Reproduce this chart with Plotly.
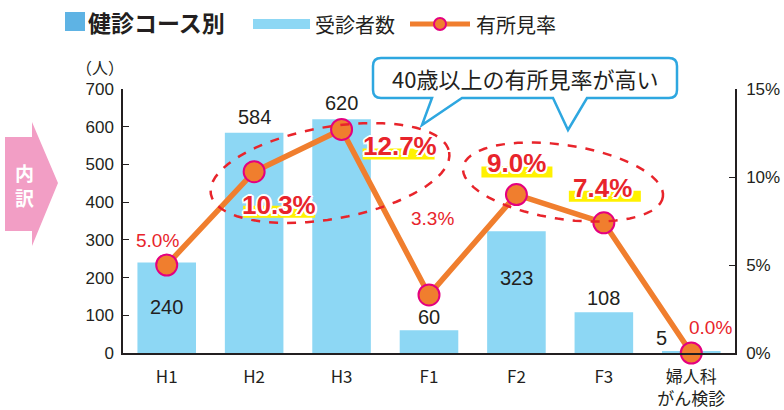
import numpy as np
import plotly.graph_objects as go

# ---------------- data ----------------
categories = ["H1", "H2", "H3", "F1", "F2", "F3", "婦人科<br>がん検診"]
examinees = [240, 584, 620, 60, 323, 108, 5]
finding_rate = [5.0, 10.3, 12.7, 3.3, 9.0, 7.4, 0.0]
rate_labels = ["5.0%", "10.3%", "12.7%", "3.3%", "9.0%", "7.4%", "0.0%"]
highlighted = [False, True, True, False, True, True, False]
left_ticks = [0, 100, 200, 300, 400, 500, 600, 700]
right_ticks = [0, 5, 10, 15]
right_tick_text = ["0%", "5%", "10%", "15%"]

# ---------------- style / layout ----------------
W, H = 784, 410
L, R, T, B = 123, 49, 89, 57
PW, PH = W - L - R, H - T - B

def px(x):
    return (x - L) / PW

def py(y):
    return (T + PH - y) / PH

BAR = "#8DD7F4"
LINE = "#F07E2E"
MK_EDGE = "#E4007F"
RED = "#E8242B"
TXT = "#231F20"
BLUE = "#2EA7E0"
NUM_FONT = "Liberation Sans, Arial, Noto Sans CJK JP"
JP_FONT = "Noto Sans CJK JP, Liberation Sans"

fig = go.Figure()
fig.add_trace(go.Bar(
    x=categories, y=examinees, marker=dict(color=BAR, line=dict(width=0)),
    width=0.67, name="受診者数", showlegend=False, hoverinfo="skip"))
fig.add_trace(go.Scatter(
    x=categories, y=finding_rate, yaxis="y2", mode="lines+markers",
    line=dict(color=LINE, width=5.5),
    marker=dict(size=21, color=LINE, line=dict(color=MK_EDGE, width=2)),
    cliponaxis=False, name="有所見率", showlegend=False, hoverinfo="skip"))

annotations = []
shapes = []

def note(x, y, text, size, color=TXT, family=JP_FONT, xanchor="center", **kw):
    annotations.append(dict(x=px(x), y=py(y), xref="paper", yref="paper", text=text,
                            showarrow=False, xanchor=xanchor, yanchor="middle",
                            font=dict(family=family, size=size, color=color), **kw))

# bar value labels (offsets in pixels relative to bar top)
bar_label_shift = [-45, 16, 16, 13, -47, 14, 13]
bar_label_xshift = [0, 0, 0, 0, 0, 0, -30]
for c, v, ys, xs in zip(categories, examinees, bar_label_shift, bar_label_xshift):
    annotations.append(dict(x=c, y=v, xref="x", yref="y", text=str(v),
                            showarrow=False, yshift=ys, xshift=xs,
                            xanchor="center", yanchor="middle",
                            font=dict(family=NUM_FONT, size=20, color=TXT)))

# rate labels
rate_shift = [(-9, 25), (25, -33), (58, -17), (3, 76), (0, 32), (-1, 35), (19, 26)]
hl_box = [None, (-11, 61, -34, -46), (21, 93, -19, -30), None,
          (-35, 36, 28, 17), (-35, 37, 32, 21), None]
shadow = "2px 0 0 white, -2px 0 0 white, 0 2px 0 white, 0 -2px 0 white, 1.5px 1.5px 0 white, -1.5px -1.5px 0 white, 1.5px -1.5px 0 white, -1.5px 1.5px 0 white"
for i, (c, v, lab, hl) in enumerate(zip(categories, finding_rate, rate_labels, highlighted)):
    xs, ys = rate_shift[i]
    if hl:
        x0, x1, y0, y1 = hl_box[i]
        shapes.append(dict(type="rect", xref="x", yref="y2", xsizemode="pixel",
                           ysizemode="pixel", xanchor=i, yanchor=v,
                           x0=x0, x1=x1, y0=y0, y1=y1,
                           fillcolor="#FFF100", line=dict(width=0), layer="above"))
        annotations.append(dict(x=c, y=v, xref="x", yref="y2", text="<b>" + lab + "</b>",
                                showarrow=False, xshift=xs, yshift=ys,
                                xanchor="center", yanchor="middle",
                                font=dict(family=NUM_FONT, size=26, color=RED, shadow=shadow)))
    else:
        annotations.append(dict(x=c, y=v, xref="x", yref="y2", text=lab,
                                showarrow=False, xshift=xs, yshift=ys,
                                xanchor="center", yanchor="middle",
                                font=dict(family=NUM_FONT, size=19, color=RED)))

# dashed ellipses (pixel geometry converted to paper)
def ellipse_path(cx, cy, a, b, deg):
    t = np.linspace(0, 2 * np.pi, 73)
    th = np.deg2rad(deg)
    ex = a * np.cos(t)
    ey = b * np.sin(t)
    xs = cx + ex * np.cos(th) + ey * np.sin(th)
    ys = cy - ex * np.sin(th) + ey * np.cos(th)
    pts = ["%s%.5f,%.5f" % ("M" if k == 0 else "L", px(x), py(y)) for k, (x, y) in enumerate(zip(xs, ys))]
    return " ".join(pts) + " Z"

for (cx, cy, a, b, deg) in [(330, 173, 121, 46, 10), (563, 182, 101, 37, -8.5)]:
    shapes.append(dict(type="path", xref="paper", yref="paper", path=ellipse_path(cx, cy, a, b, deg),
                       line=dict(color=RED, width=2.5, dash="dash"), layer="above"))

# callout box
r = 8
bx0, bx1, by0, by1 = 373, 677, 58, 98
path = "M%.5f,%.5f L%.5f,%.5f " % (px(bx0 + r), py(by0), px(bx1 - r), py(by0))
path += "Q%.5f,%.5f %.5f,%.5f " % (px(bx1), py(by0), px(bx1), py(by0 + r))
path += "L%.5f,%.5f " % (px(bx1), py(by1 - r))
path += "Q%.5f,%.5f %.5f,%.5f " % (px(bx1), py(by1), px(bx1 - r), py(by1))
for (x, y) in [(587, by1), (568, 130), (553, by1), (462, by1), (422, 125), (432, by1), (bx0 + r, by1)]:
    path += "L%.5f,%.5f " % (px(x), py(y))
path += "Q%.5f,%.5f %.5f,%.5f " % (px(bx0), py(by1), px(bx0), py(by1 - r))
path += "L%.5f,%.5f " % (px(bx0), py(by0 + r))
path += "Q%.5f,%.5f %.5f,%.5f Z" % (px(bx0), py(by0), px(bx0 + r), py(by0))
shapes.append(dict(type="path", xref="paper", yref="paper", path=path,
                   fillcolor="white", line=dict(color=BLUE, width=2.5), layer="above"))
note(525, 78, "40歳以上の有所見率が高い", 22)

# pink arrow "内訳"
arrow_pts = [(5, 137), (32, 137), (32, 122), (58, 183), (32, 246), (32, 231), (5, 231)]
apath = " ".join("%s%.5f,%.5f" % ("M" if k == 0 else "L", px(x), py(y)) for k, (x, y) in enumerate(arrow_pts)) + " Z"
shapes.append(dict(type="path", xref="paper", yref="paper", path=apath,
                   fillcolor="#F29EC5", line=dict(width=0), layer="above"))
note(24, 185, "<b>内<br>訳</b>", 19, color="white")

# title & legend
shapes.append(dict(type="rect", xref="paper", yref="paper", x0=px(65), x1=px(85), y0=py(12), y1=py(31),
                   fillcolor="#5EB3E4", line=dict(width=0)))
note(86, 22, "<b>健診コース別</b>", 23, xanchor="left")
shapes.append(dict(type="rect", xref="paper", yref="paper", x0=px(253), x1=px(310), y0=py(19), y1=py(29),
                   fillcolor=BAR, line=dict(width=0)))
note(313, 24, "受診者数", 20, xanchor="left")
shapes.append(dict(type="line", xref="paper", yref="paper", x0=px(410), x1=px(470), y0=py(24), y1=py(24),
                   line=dict(color=LINE, width=5)))
shapes.append(dict(type="circle", xref="paper", yref="paper", x0=px(434), x1=px(446), y0=py(18), y1=py(30),
                   fillcolor=LINE, line=dict(color=MK_EDGE, width=2)))
note(474, 24, "有所見率", 20, xanchor="left")
note(100, 67, "（人）", 16)

fig.update_layout(
    width=W, height=H, margin=dict(l=L, r=R, t=T, b=B, pad=0, autoexpand=False),
    paper_bgcolor="white", plot_bgcolor="white", showlegend=False,
    xaxis=dict(categoryorder="array", categoryarray=categories, range=[-0.5, 6.5], automargin=False,
               showline=True, linecolor=TXT, linewidth=1.5, ticks="", showgrid=False,
               tickfont=dict(family=JP_FONT, size=17, color=TXT), ticklabelstandoff=8),
    yaxis=dict(range=[0, 700], tickvals=left_ticks, showline=True, linecolor=TXT, linewidth=1.5,
               automargin=False,
               ticks="inside", ticklen=6, tickcolor=TXT, showgrid=False, zeroline=False,
               tickfont=dict(family=NUM_FONT, size=17, color=TXT), ticklabelstandoff=4),
    yaxis2=dict(range=[0, 15], tickvals=right_ticks, ticktext=right_tick_text, overlaying="y", side="right",
                showline=True, linecolor=TXT, linewidth=1.5, ticks="inside", ticklen=6, tickcolor=TXT,
                automargin=False,
                showgrid=False, zeroline=False,
                tickfont=dict(family=NUM_FONT, size=17, color=TXT), ticklabelstandoff=6),
    annotations=annotations, shapes=shapes,
)

fig.write_html("out.html", config={"displayModeBar": False},
               post_script="document.body.style.margin='0';document.body.style.overflow='hidden';")
